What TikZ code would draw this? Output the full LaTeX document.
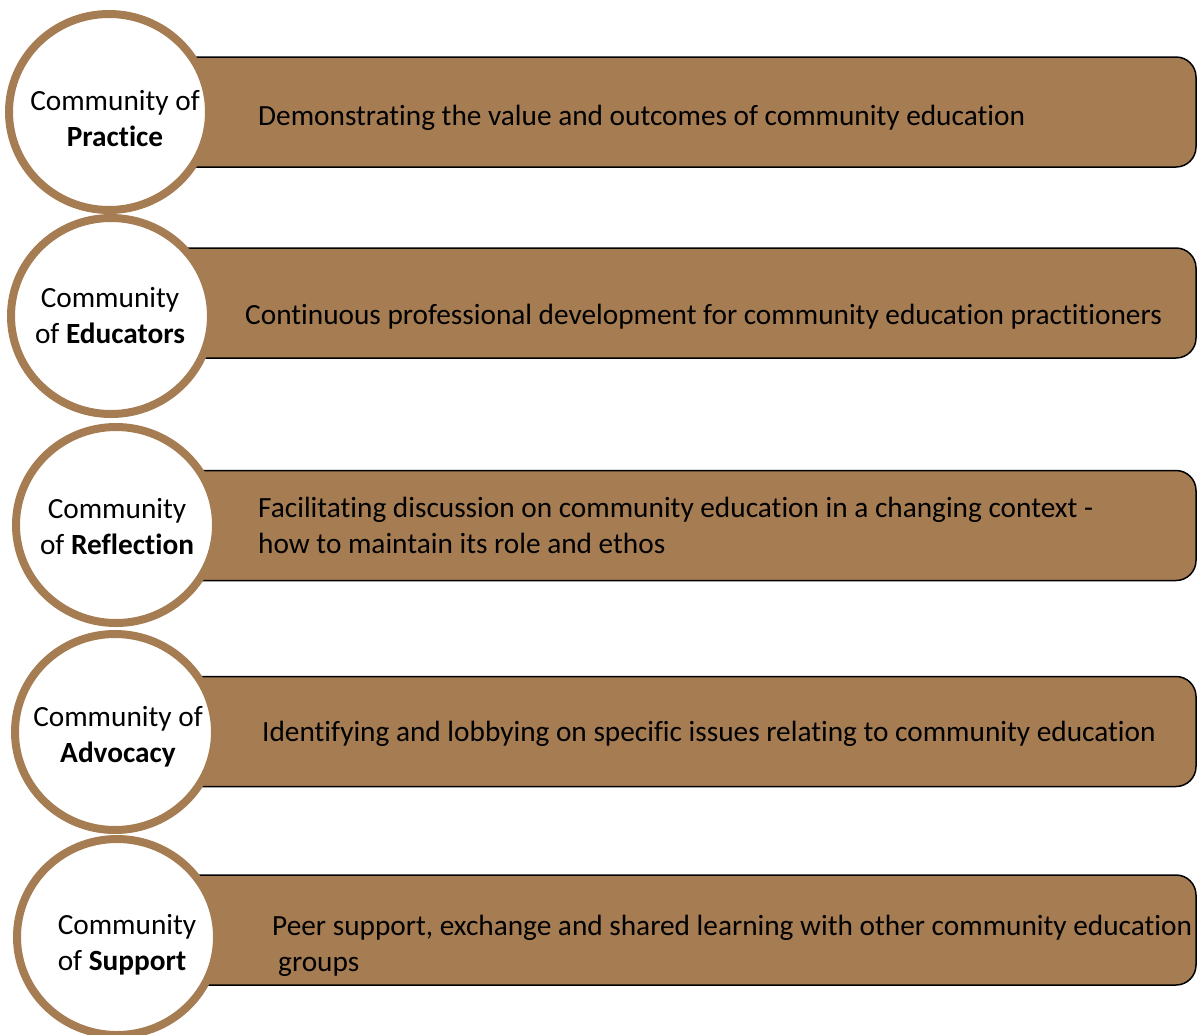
\documentclass[tikz,border=0pt]{standalone}
\usepackage{fontspec}
\setmainfont{Carlito}[Ligatures={NoCommon}]
\usetikzlibrary{shapes.geometric}
\definecolor{brownA}{HTML}{A67C52}
\begin{document}
\begin{tikzpicture}[x=1pt,y=-1pt,
  bar/.style={rectangle, fill=brownA, draw=black, line width=1.5pt, rounded corners=20pt,
    minimum width=1096pt, minimum height=110pt, inner sep=0pt},
  ring/.style={ellipse, draw=brownA, fill=white, line width=8pt, minimum width=200pt, minimum height=196pt, inner sep=0pt},
  lab/.style={font=\fontsize{29.3}{36}\selectfont, align=center, inner sep=0pt},
  txt/.style={font=\fontsize{29.3}{36}\selectfont, align=left, anchor=west, inner sep=0pt}]
\useasboundingbox (0,0) rectangle (1198,1034);
% bars
\node[bar] (b1) at (648,112) {};
\node[bar] (b2) at (648,303) {};
\node[bar] (b3) at (648,525.5) {};
\node[bar] (b4) at (648,731.5) {};
\node[bar] (b5) at (648,930) {};
% circles
\node[ring] (c1) at (109,112) {};
\node[ring] (c2) at (111,316) {};
\node[ring] (c3) at (116,525) {};
\node[ring] (c4) at (115,732) {};
\node[ring] (c5) at (117,937) {};
% circle labels
\node[lab] (l1) at (115,119) {Community of\\\textbf{Practice}};
\node[lab] (l2) at (110,316) {Community\\of \textbf{Educators}};
\node[lab] (l3) at (117,527) {Community\\of \textbf{Reflection}};
\node[lab] (l4) at (118,737) {Community of\\\textbf{Advocacy}};
\node[lab, align=left] (l5) at (127,945) {Community\\of \textbf{Support}};
% bar texts
\node[txt] (d1) at (258,118) {Demonstrating the value and outcomes of community education};
\node[txt] (d2) at (245,317) {Continuous professional development for community education practitioners};
\node[txt] (d3) at (258,525) {Facilitating discussion on community education in a changing context -\\how to maintain its role and ethos};
\node[txt] (d4) at (262,734) {Identifying and lobbying on specific issues relating to community education};
\node[txt] (d5) at (272,946) {Peer support, exchange and shared learning with other community education\\\hspace*{6pt}groups};
\end{tikzpicture}
\end{document}
